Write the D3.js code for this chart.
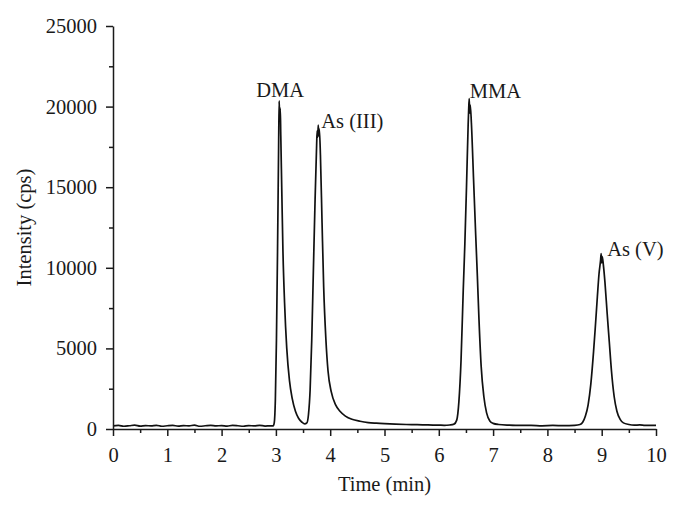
<!DOCTYPE html>
<html>
<head>
<meta charset="utf-8">
<script src="https://cdn.jsdelivr.net/npm/d3@7"></script>
<style>
  html, body { margin: 0; padding: 0; background: #fff; }
  svg { display: block; }
  text { font-family: "Liberation Serif", "Times New Roman", serif; fill: #1a1a1a; }
</style>
</head>
<body>
<svg id="chart" width="679" height="511"></svg>
<script>
// Chromatogram trace (time in min, intensity in cps)
const timeMin = [
  0, 0.1, 0.2, 0.3, 0.4, 0.5, 0.6, 0.7, 0.8, 0.9,
  1.0, 1.1, 1.2, 1.3, 1.4, 1.5, 1.6, 1.7, 1.8, 1.9,
  2.0, 2.1, 2.2, 2.3, 2.4, 2.5, 2.6, 2.7, 2.8, 2.9,
  2.95, 2.97, 2.99, 3.01, 3.03, 3.05, 3.06, 3.07, 3.08, 3.09,
  3.11, 3.13, 3.16, 3.20, 3.25, 3.30, 3.36, 3.42, 3.48, 3.53,
  3.57, 3.60, 3.63, 3.66, 3.69, 3.72, 3.75, 3.76, 3.77, 3.78,
  3.79, 3.80, 3.82, 3.85, 3.88, 3.92, 3.96, 4.02, 4.10, 4.18,
  4.28, 4.40, 4.55, 4.70, 4.85, 5.0, 5.2, 5.4, 5.6, 5.8,
  6.0, 6.1, 6.2, 6.28, 6.33, 6.37, 6.41, 6.45, 6.48, 6.51,
  6.54, 6.55, 6.56, 6.57, 6.58, 6.60, 6.64, 6.68, 6.71, 6.74,
  6.78, 6.83, 6.88, 6.94, 7.0, 7.1, 7.3, 7.5, 7.7, 7.9,
  8.1, 8.3, 8.5, 8.6, 8.65, 8.70, 8.75, 8.80, 8.85, 8.88,
  8.92, 8.95, 8.98, 8.99, 9.00, 9.01, 9.03, 9.06, 9.10, 9.14,
  9.18, 9.23, 9.28, 9.34, 9.40, 9.5, 9.6, 9.7, 9.8, 9.9,
  10.0
];
const intensityCps = [
  190, 220, 170, 200, 240, 180, 210, 190, 230, 170,
  200, 220, 180, 210, 190, 240, 170, 200, 230, 190,
  210, 180, 220, 200, 170, 210, 190, 230, 180, 200,
  190, 400, 1800, 5500, 11000, 17500, 20350, 19300, 19900, 18200,
  14500, 11000, 7800, 5000, 3000, 1900, 1100, 650, 420, 320,
  380, 900, 2400, 5500, 9800, 14000, 17600, 18500, 18100, 18850,
  18200, 18600, 17000, 12800, 8800, 5600, 3600, 2300, 1500, 1100,
  800, 600, 480, 400, 360, 330, 300, 280, 270, 250,
  240, 230, 250, 300, 550, 1700, 4300, 8600, 11500, 15000,
  18800, 19800, 20500, 19600, 20100, 19000, 15500, 12000, 9500, 6800,
  3900, 2000, 1000, 500, 350, 280, 240, 220, 230, 200,
  220, 210, 230, 280, 420, 800, 1500, 2800, 4800, 6200,
  8200, 9600, 10500, 10880, 10300, 10700, 10200, 9100, 7200, 5400,
  3600, 2000, 1100, 600, 380, 280, 240, 250, 220, 230,
  220
];

// Peak labels
const peakNames = ['DMA', 'As (III)', 'MMA', 'As (V)'];
const peakTimes = [3.06, 3.78, 6.57, 8.99];
const peakHeights = [20350, 18850, 20500, 10880];

// Axis ticks
const xTicks = [0, 1, 2, 3, 4, 5, 6, 7, 8, 9, 10];
const xMinorTicks = [0.5, 1.5, 2.5, 3.5, 4.5, 5.5, 6.5, 7.5, 8.5, 9.5];
const yTicks = [0, 5000, 10000, 15000, 20000, 25000];
const yMinorTicks = [2500, 7500, 12500, 17500, 22500];

const margin = { top: 26, right: 23, bottom: 82, left: 113 };
const W = 679, H = 511;
const w = W - margin.left - margin.right;
const h = H - margin.top - margin.bottom;

const svg = d3.select('#chart');
const g = svg.append('g').attr('transform', `translate(${margin.left},${margin.top})`);

const x = d3.scaleLinear().domain([0, 10]).range([0, w]);
const y = d3.scaleLinear().domain([0, 25000]).range([h, 0]);

const points = timeMin.map((t, i) => ({ t, v: intensityCps[i] }));

// trace
const line = d3.line().x(d => x(d.t)).y(d => y(d.v)).curve(d3.curveMonotoneX);
g.append('path')
  .datum(points)
  .attr('fill', 'none')
  .attr('stroke', '#111')
  .attr('stroke-width', 1.7)
  .attr('stroke-linejoin', 'round')
  .attr('d', line);

// minor ticks
g.append('g')
  .attr('transform', `translate(0,${h})`)
  .call(d3.axisBottom(x).tickValues(xMinorTicks).tickSize(4).tickFormat(''))
  .call(a => a.select('.domain').remove());
g.append('g')
  .call(d3.axisLeft(y).tickValues(yMinorTicks).tickSize(4).tickFormat(''))
  .call(a => a.select('.domain').remove());

// major axes
g.append('g')
  .attr('transform', `translate(0,${h})`)
  .call(d3.axisBottom(x).tickValues(xTicks).tickSize(7).tickSizeOuter(0).tickPadding(11).tickFormat(d3.format('d')));
g.append('g')
  .call(d3.axisLeft(y).tickValues(yTicks).tickSize(7).tickSizeOuter(0).tickPadding(9).tickFormat(d3.format('d')));

svg.selectAll('.tick line, .domain').attr('stroke', '#1a1a1a').attr('stroke-width', 1.5);
svg.selectAll('.tick text').attr('font-size', 20.5).attr('fill', '#1a1a1a')
  .style('font-family', '"Liberation Serif", "Times New Roman", serif');

// axis titles
svg.append('text')
  .attr('x', margin.left + w / 2)
  .attr('y', 491)
  .attr('text-anchor', 'middle')
  .attr('font-size', 20.5)
  .text('Time (min)');

svg.append('text')
  .attr('transform', `translate(31,${margin.top + h / 2}) rotate(-90)`)
  .attr('text-anchor', 'middle')
  .attr('font-size', 20.5)
  .text('Intensity (cps)');

// peak labels
const labelAnchor = ['middle', 'start', 'start', 'start'];
const labelDx = [1, 3, 0, 6];
const labelDy = [-4, 3, -1, 2];
g.selectAll('.peak-label')
  .data(peakNames)
  .enter().append('text')
  .attr('class', 'peak-label')
  .attr('x', (d, i) => x(peakTimes[i]) + labelDx[i])
  .attr('y', (d, i) => y(peakHeights[i]) + labelDy[i])
  .attr('text-anchor', (d, i) => labelAnchor[i])
  .attr('font-size', 20.5)
  .text(d => d);
</script>
</body>
</html>
